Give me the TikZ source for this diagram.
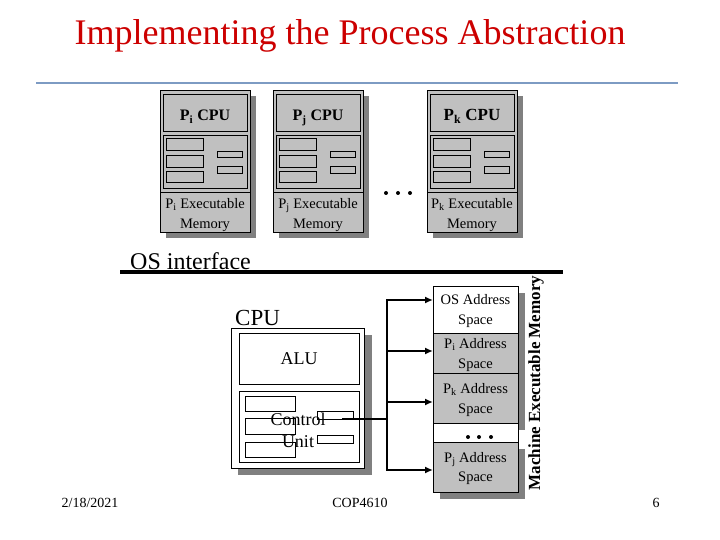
\documentclass[tikz,border=0pt]{standalone}
\usepackage{fontspec}
\setmainfont{Liberation Serif}
\usetikzlibrary{arrows.meta}
\definecolor{silv}{RGB}{192,192,192}
\definecolor{shad}{RGB}{128,128,128}
\definecolor{titlered}{RGB}{204,0,0}
\definecolor{rulecol}{RGB}{125,155,195}
\tikzset{
  box/.style={draw=black, line width=0.9pt, inner sep=0pt, outer sep=0pt, anchor=north west},
  lbl/.style={font=\fontsize{14.5}{19.5}\selectfont, align=center, inner sep=0pt},
  conn/.style={line width=2.3pt},
  arr/.style={line width=2.3pt, -{Latex[length=8pt,width=7pt]}},
  dotmark/.style={fill=black},
}
\begin{document}
\begin{tikzpicture}[x=1pt,y=-1pt]
\useasboundingbox (0,0) rectangle (720,540);
% title and rule
\node[anchor=base, text=titlered, font=\fontsize{36}{40}\selectfont, inner sep=0pt] (title) at (350,45) {Implementing the Process Abstraction};
\draw[rulecol, line width=2pt] (36,83) -- (678,83);
% process boxes
\foreach \x/\n/\s in {160/i/16,273/j/16,427/k/17}{
  \fill[shad] (\x+6,96) rectangle (\x+96,238);
  \node[box, fill=silv, minimum width=90pt, minimum height=142pt] (box\n) at (\x,90) {};
  \node[box, minimum width=84pt, minimum height=37pt] (cpu\n) at (\x+3,94) {};
  \node[anchor=base, inner sep=0pt, font=\bfseries\fontsize{\s}{19}\selectfont] (cpulbl\n) at (\x+45,121) {P\textsubscript{\n} CPU};
  \node[box, minimum width=84pt, minimum height=53pt] (mid\n) at (\x+3,135) {};
  \node[box, minimum width=37pt, minimum height=12pt] (ra\n) at (\x+6,138) {};
  \node[box, minimum width=37pt, minimum height=12pt] (rb\n) at (\x+6,155) {};
  \node[box, minimum width=37pt, minimum height=11pt] (rc\n) at (\x+6,171) {};
  \node[box, minimum width=25pt, minimum height=6pt] (rd\n) at (\x+57,151) {};
  \node[box, minimum width=25pt, minimum height=7pt] (re\n) at (\x+57,166) {};
  \draw[line width=0.9pt] (\x,192) -- (\x+90,192);
  \node[lbl] (exe\n) at (\x+45,215) {P\textsubscript{\n} Executable\\Memory};
}
\foreach \d in {386,398,410} \fill[dotmark] (\d,193) circle (2pt);
% OS interface
\node[anchor=base west, font=\fontsize{24}{26}\selectfont, inner sep=0pt] (osi) at (130,269) {OS interface};
\draw[line width=4pt] (120,271.5) -- (563,271.5);
% CPU
\node[anchor=base west, font=\fontsize{23}{26}\selectfont, inner sep=0pt] (cpulabel) at (235,325) {CPU};
\fill[shad] (238,335) rectangle (372,475);
\node[box, fill=white, minimum width=133pt, minimum height=140pt] (cpu) at (231,328) {};
\node[box, minimum width=120pt, minimum height=51pt, font=\fontsize{18}{20}\selectfont] (alu) at (239,333) {ALU};
\node[box, minimum width=120pt, minimum height=71pt] (cu) at (239,391) {};
\node[font=\fontsize{18}{20}\selectfont, inner sep=0pt] (ctltext) at (298,419) {Control};
\node[font=\fontsize{18}{20}\selectfont, inner sep=0pt] (unittext) at (298,442) {Unit};
\node[box, minimum width=50pt, minimum height=15pt] (c1) at (245,396) {};
\node[box, minimum width=50pt, minimum height=16pt] (c2) at (245,418) {};
\node[box, minimum width=50pt, minimum height=15pt] (c3) at (245,442) {};
\node[box, minimum width=36pt, minimum height=8pt] (c4) at (317,411) {};
\node[box, minimum width=36pt, minimum height=8pt] (c5) at (317,435) {};
% memory stack
\fill[shad] (440,293) rectangle (525,430);
\fill[shad] (440,449) rectangle (525,499);
\node[box, fill=white, minimum width=85pt, minimum height=206pt] (mem) at (433,286) {};
\node[box, fill=white, minimum width=85pt, minimum height=47pt] (osm) at (433,286) {};
\node[box, fill=silv, minimum width=85pt, minimum height=40pt] (pim) at (433,333) {};
\node[box, fill=silv, minimum width=85pt, minimum height=50pt] (pkm) at (433,373) {};
\node[box, fill=silv, minimum width=85pt, minimum height=50pt] (pjm) at (433,442) {};
\node[lbl] (osmt) at ([yshift=-1.5pt]osm.center) {OS Address\\Space};
\node[lbl] (pimt) at ([yshift=-2pt]pim.center) {P\textsubscript{i} Address\\Space};
\node[lbl] (pkmt) at ([yshift=-2pt]pkm.center) {P\textsubscript{k} Address\\Space};
\node[lbl] (pjmt) at ([yshift=-1.5pt]pjm.center) {P\textsubscript{j} Address\\Space};
\foreach \d in {468,479,491} \fill[dotmark] (\d,437) circle (2pt);
\node[rotate=90, font=\bfseries\fontsize{17}{20}\selectfont, inner sep=0pt] (mlabel) at (536,383) {Machine Executable Memory};
% connectors
\coordinate (ctl) at (342,419);
\coordinate (bus) at (387,419);
\draw[conn] (ctl) -- (bus);
\draw[arr] (bus) |- ([yshift=9.5pt]osm.west);
\draw[arr] (bus) |- ([yshift=2pt]pim.west);
\draw[arr] (bus) |- ([yshift=-4pt]pkm.west);
\draw[arr] (bus) |- ([yshift=-3pt]pjm.west);
% footer
\node[font=\fontsize{14}{16}\selectfont, inner sep=0pt] (date) at (90,503) {2/18/2021};
\node[font=\fontsize{14}{16}\selectfont, inner sep=0pt] (course) at (360,503) {COP4610};
\node[font=\fontsize{14}{16}\selectfont, inner sep=0pt] (page) at (656,503) {6};
\end{tikzpicture}
\end{document}
